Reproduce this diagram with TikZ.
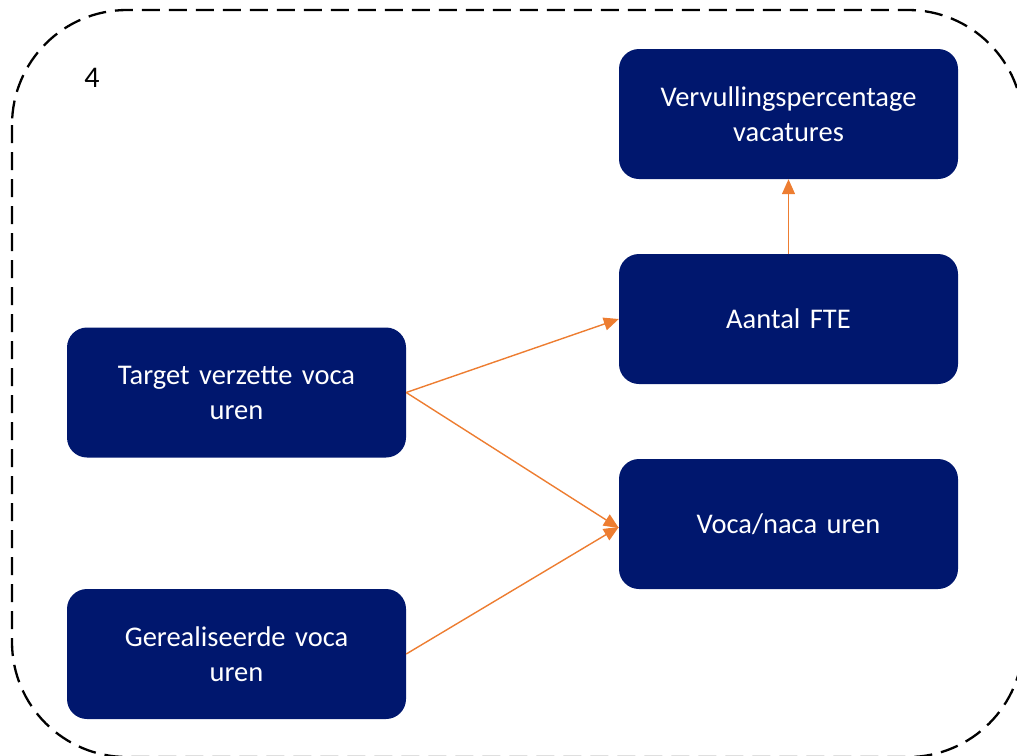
\documentclass[tikz,border=0pt]{standalone}
\usepackage{fontspec}
\setmainfont{Carlito}
\usetikzlibrary{arrows.meta}
\definecolor{navy}{RGB}{0,23,110}
\definecolor{accent}{RGB}{237,125,49}
\begin{document}
\begin{tikzpicture}[x=1pt,y=-1pt,
  box/.style={fill=navy, rounded corners=20pt, minimum width=339pt, minimum height=130pt,
    text=white, align=center, text width=330pt, inner sep=0pt,
    font=\fontsize{28.5pt}{35pt}\selectfont},
  link/.style={draw=accent, line width=1.4pt, -{Triangle[length=15pt,width=13pt]}}]
  \useasboundingbox (0,0) rectangle (1017,755);
  % dashed frame, partly outside the page
  \draw[line width=2.3pt, dash pattern=on 18pt off 9pt, rounded corners=115pt]
    (12,10) rectangle (1023,757);
  \node[font=\fontsize{30pt}{34pt}\selectfont, anchor=center] (lbl) at (92,78) {4};
  % boxes
  \node[box] (vvp) at (788.5,114) {Vervullingspercentage\\vacatures};
  \node[box] (fte) at (788.5,319) {Aantal FTE};
  \node[box] (vnu) at (788.5,524) {Voca/naca uren};
  \node[box] (tvu) at (236.5,392.5) {Target verzette voca\\uren};
  \node[box] (gvu) at (236.5,654) {Gerealiseerde voca\\uren};
  % connectors
  \draw[link] (tvu.east) -- (fte.west);
  \draw[link] (tvu.east) -- ([yshift=-4pt]vnu.west);
  \draw[link] (gvu.east) -- ([yshift=-3pt]vnu.west);
  \draw[link] (fte.north) -- (vvp.south);
\end{tikzpicture}
\end{document}
